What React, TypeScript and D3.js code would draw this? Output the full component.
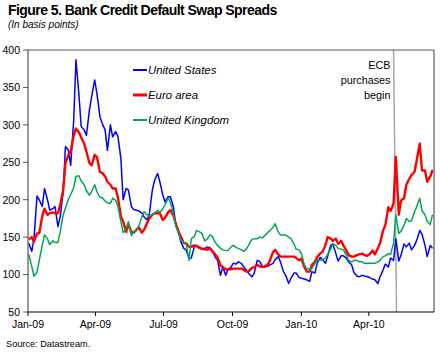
import React, { useEffect } from "react";
import * as d3 from "d3";

const dates: string[] = [
  "2009-01-02","2009-01-06","2009-01-09","2009-01-13","2009-01-16","2009-01-20","2009-01-23","2009-01-27","2009-01-30",
  "2009-02-03","2009-02-06","2009-02-10","2009-02-13","2009-02-17","2009-02-20","2009-02-24","2009-02-27",
  "2009-03-03","2009-03-06","2009-03-10","2009-03-13","2009-03-17","2009-03-20","2009-03-24","2009-03-27","2009-03-31",
  "2009-04-03","2009-04-07","2009-04-10","2009-04-14","2009-04-17","2009-04-21","2009-04-24","2009-04-28",
  "2009-05-01","2009-05-05","2009-05-08","2009-05-12","2009-05-15","2009-05-19","2009-05-22","2009-05-26","2009-05-29",
  "2009-06-02","2009-06-05","2009-06-09","2009-06-12","2009-06-16","2009-06-19","2009-06-23","2009-06-26","2009-06-30",
  "2009-07-03","2009-07-07","2009-07-10","2009-07-14","2009-07-17","2009-07-21","2009-07-24","2009-07-28","2009-07-31",
  "2009-08-04","2009-08-07","2009-08-11","2009-08-14","2009-08-18","2009-08-21","2009-08-25","2009-08-28",
  "2009-09-01","2009-09-04","2009-09-08","2009-09-11","2009-09-15","2009-09-18","2009-09-22","2009-09-25","2009-09-29",
  "2009-10-02","2009-10-06","2009-10-09","2009-10-13","2009-10-16","2009-10-20","2009-10-23","2009-10-27","2009-10-30",
  "2009-11-03","2009-11-06","2009-11-10","2009-11-13","2009-11-17","2009-11-20","2009-11-24","2009-11-27",
  "2009-12-01","2009-12-04","2009-12-08","2009-12-11","2009-12-15","2009-12-18","2009-12-22","2009-12-25","2009-12-29",
  "2010-01-01","2010-01-05","2010-01-08","2010-01-12","2010-01-15","2010-01-19","2010-01-22","2010-01-26","2010-01-29",
  "2010-02-02","2010-02-05","2010-02-09","2010-02-12","2010-02-16","2010-02-19","2010-02-23","2010-02-26",
  "2010-03-02","2010-03-05","2010-03-09","2010-03-12","2010-03-16","2010-03-19","2010-03-23","2010-03-26","2010-03-30",
  "2010-04-02","2010-04-06","2010-04-09","2010-04-13","2010-04-16","2010-04-20","2010-04-23","2010-04-27","2010-04-30",
  "2010-05-04","2010-05-07","2010-05-11","2010-05-14","2010-05-18","2010-05-21","2010-05-25","2010-05-28",
  "2010-06-01","2010-06-04","2010-06-08","2010-06-11","2010-06-15","2010-06-18","2010-06-22","2010-06-25",
];

const unitedStates: number[] = [
  142, 131, 148, 205, 200, 191, 215, 200, 186,
  188, 191, 164, 177, 211, 271, 266, 246,
  306, 387, 340, 298, 293, 286, 320, 338, 360,
  342, 311, 302, 293, 266, 300, 284, 291,
  285, 255, 200, 215, 213, 191, 187, 186, 185,
  182, 177, 173, 181, 213, 226, 235, 224, 206,
  197, 204, 204, 191, 168, 157, 144, 135, 133,
  122, 122, 137, 139, 135, 135, 133, 137,
  136, 132, 123, 119, 99, 110, 99, 107, 110,
  115, 114, 117, 115, 110, 105, 101, 97, 102,
  119, 118, 111, 110, 111, 113, 115, 120,
  124, 117, 104, 99, 88, 95, 102, 102, 96,
  95, 94, 93, 91, 104, 102, 115, 123, 120,
  115, 124, 139, 141, 128, 118, 125, 125,
  122, 117, 113, 103, 98, 97, 99, 98, 97,
  96, 94, 93, 88, 97, 106, 114, 110, 122,
  119, 148, 118, 126, 141, 137, 142, 133,
  139, 146, 159, 154, 139, 124, 139, 135,
];

const euroArea: number[] = [
  147, 150, 144, 155, 155, 178, 188, 180, 182,
  183, 182, 182, 193, 213, 249, 260, 264,
  286, 295, 290, 283, 275, 264, 249, 246, 260,
  257, 237, 236, 231, 224, 220, 215, 215,
  203, 178, 171, 157, 167, 157, 156, 160, 163,
  156, 160, 169, 175, 180, 182, 182, 182, 173,
  176, 183, 186, 179, 169, 157, 151, 142, 142,
  137, 137, 139, 138, 136, 134, 135, 133,
  135, 131, 127, 123, 112, 110, 107, 107, 107,
  108, 108, 108, 108, 106, 104, 105, 109, 110,
  113, 111, 110, 111, 113, 119, 130, 133,
  127, 124, 124, 124, 124, 124, 124, 122, 119,
  121, 110, 104, 104, 113, 117, 123, 128, 130,
  139, 150, 148, 145, 148, 141, 145, 139,
  132, 126, 124, 124, 126, 127, 128, 126, 125,
  127, 132, 127, 135, 142, 159, 166, 190, 185,
  195, 257, 180, 199, 202, 220, 228, 233,
  237, 253, 275, 239, 239, 224, 231, 240,
];

const unitedKingdom: number[] = [
  127, 111, 98, 103, 119, 139, 153, 148, 140,
  145, 143, 143, 157, 180, 189, 201, 207,
  216, 231, 232, 225, 220, 212, 206, 211, 220,
  211, 203, 203, 198, 196, 195, 202, 199,
  191, 171, 156, 161, 171, 152, 157, 159, 165,
  177, 184, 180, 178, 180, 182, 186, 183, 188,
  193, 202, 197, 181, 166, 155, 146, 143, 142,
  119, 148, 151, 159, 157, 155, 145, 147,
  153, 151, 143, 139, 135, 133, 132, 132, 137,
  139, 136, 135, 133, 131, 135, 140, 147, 148,
  148, 150, 149, 152, 156, 159, 163, 168,
  157, 153, 153, 153, 150, 148, 141, 134, 133,
  128, 113, 108, 107, 108, 115, 119, 119, 120,
  122, 127, 134, 141, 139, 135, 134, 133,
  126, 119, 117, 119, 119, 117, 117, 115, 115,
  115, 115, 115, 117, 119, 124, 125, 128, 127,
  142, 180, 155, 158, 166, 175, 171, 172,
  184, 191, 202, 185, 180, 171, 167, 180,
];

const seriesNames = ["United States", "Euro area", "United Kingdom"];
const seriesColors = ["#0000FF", "#FF0000", "#00A651"];
const seriesWidths = [1.5, 2.4, 1.5];
const yTicks = [50, 100, 150, 200, 250, 300, 350, 400];
const xTickDates = ["2009-01-01", "2009-04-01", "2009-07-01", "2009-10-01", "2010-01-01", "2010-04-01"];
const ecbDates = ["2010-05-04", "2010-05-08"];
const ecbLabel = ["ECB", "purchases", "begin"];

const FONT = "'Liberation Sans', Arial, Helvetica, sans-serif";

export default function App() {
  useEffect(() => {
    document.body.style.margin = "0";
  }, []);

  const parse = d3.timeParse("%Y-%m-%d");
  const fmt = d3.timeFormat("%b-%y");
  const left = 28, right = 434, top = 50, bottom = 312;

  const x = d3
    .scaleTime()
    .domain([parse("2009-01-01") as Date, parse("2010-06-27") as Date])
    .range([left, right]);
  const y = d3.scaleLinear().domain([50, 400]).range([bottom, top]);

  const parsed = dates.map((d) => parse(d) as Date);
  const allSeries = [unitedStates, euroArea, unitedKingdom];

  const line = d3
    .line<[Date, number]>()
    .x((d) => x(d[0]))
    .y((d) => y(d[1]));

  const ecbTop = x(parse(ecbDates[0]) as Date);
  const ecbBottom = x(parse(ecbDates[1]) as Date);

  const legendY = [70, 95, 120];

  return (
    <svg
      width={440}
      height={356}
      style={{ position: "absolute", left: 0, top: 0, background: "#fff" }}
      fontFamily={FONT}
    >
      <rect x={0} y={0} width={440} height={356} fill="#fff" />
      <text x={8} y={15} fontSize={14} fontWeight="bold" letterSpacing={-0.55} fill="#000">
        Figure 5. Bank Credit Default Swap Spreads
      </text>
      <text x={8} y={28} fontSize={10} fontStyle="italic" fill="#000">
        (In basis points)
      </text>

      <line x1={ecbTop} y1={top} x2={ecbBottom} y2={bottom} stroke="#A6A6A6" strokeWidth={1.5} />

      {allSeries.map((vals, i) => (
        <path
          key={seriesNames[i]}
          d={line(parsed.map((d, j) => [d, vals[j]] as [Date, number])) || ""}
          fill="none"
          stroke={seriesColors[i]}
          strokeWidth={seriesWidths[i]}
          strokeLinejoin="round"
        />
      ))}

      <line x1={left} y1={top} x2={right} y2={top} stroke="#555" strokeWidth={1.2} />
      <line x1={right} y1={top} x2={right} y2={bottom} stroke="#555" strokeWidth={1.2} />
      <line x1={left} y1={top} x2={left} y2={bottom} stroke="#555" strokeWidth={1.2} />
      <line x1={left} y1={bottom} x2={right} y2={bottom} stroke="#000" strokeWidth={1.2} />

      {yTicks.map((t) => (
        <g key={t}>
          <line x1={left - 5} x2={left} y1={y(t)} y2={y(t)} stroke="#555" strokeWidth={1} />
          <text x={20} y={y(t) + 3.8} fontSize={10.5} textAnchor="end" fill="#000">
            {t}
          </text>
        </g>
      ))}

      {xTickDates.map((s) => {
        const d = parse(s) as Date;
        return (
          <g key={s}>
            <line x1={x(d)} x2={x(d)} y1={bottom} y2={bottom + 4} stroke="#000" strokeWidth={1} />
            <text x={x(d)} y={328} fontSize={10.5} textAnchor="middle" fill="#000">
              {fmt(d)}
            </text>
          </g>
        );
      })}

      {ecbLabel.map((s, i) => (
        <text key={s} x={390.5} y={69 + i * 15} fontSize={10.8} textAnchor="end" fill="#000">
          {s}
        </text>
      ))}

      {seriesNames.map((n, i) => (
        <g key={n}>
          <line
            x1={133}
            x2={147}
            y1={legendY[i]}
            y2={legendY[i]}
            stroke={seriesColors[i]}
            strokeWidth={i === 1 ? 3 : 2}
          />
          <text x={148} y={legendY[i] + 4} fontSize={11.4} fontStyle="italic" fill="#000">
            {n}
          </text>
        </g>
      ))}

      <text x={6} y={347} fontSize={9.2} fill="#000">
        Source: Datastream.
      </text>
    </svg>
  );
}
